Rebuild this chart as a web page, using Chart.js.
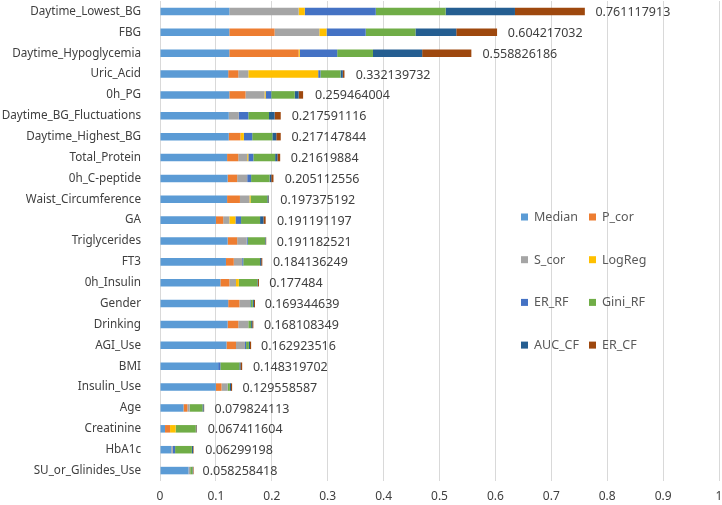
<!DOCTYPE html>
<html lang="en">
<head>
    <meta charset="UTF-8">
    <title>Feature importance</title>
    <script src="https://cdn.jsdelivr.net/npm/chart.js"></script>
    <style>
        html, body { margin: 0; padding: 0; background: #fff; }
    </style>
</head>
<body>
    <canvas id="myChart" width="722" height="505"></canvas>
    <script>
        var features = ['Daytime_Lowest_BG', 'FBG', 'Daytime_Hypoglycemia', 'Uric_Acid', '0h_PG',
            'Daytime_BG_Fluctuations', 'Daytime_Highest_BG', 'Total_Protein', '0h_C-peptide',
            'Waist_Circumference', 'GA', 'Triglycerides', 'FT3', '0h_Insulin', 'Gender', 'Drinking',
            'AGI_Use', 'BMI', 'Insulin_Use', 'Age', 'Creatinine', 'HbA1c', 'SU_or_Glinides_Use'];

        var median  = [0.124, 0.124, 0.124, 0.122, 0.124, 0.123, 0.123, 0.120, 0.121, 0.120, 0.100, 0.121, 0.118, 0.108, 0.122, 0.121, 0.119, 0.104, 0.100, 0.042, 0.009, 0.020, 0.051];
        var pCor    = [0, 0.081, 0.124, 0.018, 0.029, 0, 0.021, 0.020, 0.017, 0.023, 0.013, 0.017, 0.014, 0.016, 0.020, 0.019, 0.017, 0, 0.010, 0.007, 0.009, 0, 0];
        var sCor    = [0.124, 0.080, 0, 0.018, 0.034, 0.018, 0, 0.016, 0.018, 0.017, 0.011, 0.017, 0.015, 0.012, 0.019, 0.018, 0.016, 0, 0.011, 0.004, 0, 0.003, 0.003];
        var logReg  = [0.011, 0.013, 0.002, 0.125, 0.002, 0, 0.006, 0.002, 0, 0.002, 0.011, 0, 0, 0.005, 0, 0, 0, 0, 0, 0, 0.010, 0, 0];
        var erRF    = [0.127, 0.070, 0.067, 0.004, 0.010, 0.017, 0.015, 0.009, 0.007, 0, 0.010, 0.002, 0.002, 0, 0.001, 0, 0.002, 0.004, 0, 0, 0, 0.004, 0];
        var giniRF  = [0.125, 0.089, 0.064, 0.036, 0.042, 0.037, 0.036, 0.039, 0.033, 0.030, 0.034, 0.031, 0.030, 0.033, 0.004, 0.005, 0.005, 0.034, 0.004, 0.023, 0.036, 0.030, 0.004];
        var aucCF   = [0.124, 0.073, 0.088, 0.004, 0.007, 0.010, 0.007, 0.004, 0.003, 0.002, 0.006, 0.001, 0.002, 0.001, 0.002, 0.002, 0.002, 0.002, 0.002, 0.002, 0.001, 0.002, 0.001];
        var erCF    = [0.125, 0.073, 0.088, 0.003, 0.008, 0.011, 0.008, 0.005, 0.004, 0.001, 0.004, 0.001, 0.002, 0.002, 0.002, 0.002, 0.002, 0.003, 0.002, 0.001, 0.001, 0.001, 0.001];

        // totals printed next to the bars
        var totals = ['0.761117913', '0.604217032', '0.558826186', '0.332139732', '0.259464004',
            '0.217591116', '0.217147844', '0.21619884', '0.205112556', '0.197375192', '0.191191197',
            '0.191182521', '0.184136249', '0.177484', '0.169344639', '0.168108349', '0.162923516',
            '0.148319702', '0.129558587', '0.079824113', '0.067411604', '0.06299198', '0.058258418'];

        var xTicks = [0, 0.1, 0.2, 0.3, 0.4, 0.5, 0.6, 0.7, 0.8, 0.9, 1];

        var seriesNames = ['Median', 'P_cor', 'S_cor', 'LogReg', 'ER_RF', 'Gini_RF', 'AUC_CF', 'ER_CF'];
        var seriesData = [median, pCor, sCor, logReg, erRF, giniRF, aucCF, erCF];
        var seriesColors = ['#5B9BD5', '#ED7D31', '#A5A5A5', '#FFC000', '#4472C4', '#70AD47', '#255E91', '#9E480E'];

        var FONT = '"Noto Sans", "Open Sans", sans-serif';
        var TEXT = '#404040';

        // value labels after each bar
        var totalLabels = {
            id: 'totalLabels',
            afterDatasetsDraw: function (chart) {
                var ctx = chart.ctx;
                var x = chart.scales.x, y = chart.scales.y;
                ctx.save();
                ctx.font = '12.5px ' + FONT;
                ctx.fillStyle = TEXT;
                ctx.textBaseline = 'middle';
                ctx.textAlign = 'left';
                totals.forEach(function (t, i) {
                    ctx.fillText(t, x.getPixelForValue(parseFloat(t)) + 10, y.getPixelForValue(i) + 1);
                });
                ctx.restore();
            }
        };

        // legend sits inside the plot, two columns
        var boxLegend = {
            id: 'boxLegend',
            afterDatasetsDraw: function (chart) {
                var ctx = chart.ctx;
                var area = chart.chartArea;
                var left = area.left + 361, colGap = 68;
                var top = 217, rowGap = 42.7;
                ctx.save();
                ctx.font = '12.5px ' + FONT;
                ctx.textBaseline = 'middle';
                chart.data.datasets.forEach(function (ds, i) {
                    var cx = left + (i % 2) * colGap;
                    var cy = top + Math.floor(i / 2) * rowGap;
                    ctx.fillStyle = ds.backgroundColor;
                    ctx.fillRect(cx, cy - 3.5, 7, 7);
                    ctx.fillStyle = '#595959';
                    ctx.fillText(ds.label, cx + 13, cy + 0.5);
                });
                ctx.restore();
            }
        };

        var ctx = document.getElementById('myChart').getContext('2d');
        var myChart = new Chart(ctx, {
            type: 'bar',
            data: {
                labels: features,
                datasets: seriesNames.map(function (name, i) {
                    return {
                        label: name,
                        data: seriesData[i],
                        backgroundColor: seriesColors[i],
                        borderWidth: 0,
                        barPercentage: 0.6,
                        categoryPercentage: 0.6
                    };
                })
            },
            options: {
                indexAxis: 'y',
                responsive: false,
                animation: false,
                layout: { padding: { top: 1, right: 3, bottom: 0, left: 0 } },
                plugins: {
                    legend: { display: false },
                    tooltip: { enabled: false }
                },
                scales: {
                    x: {
                        stacked: true,
                        min: 0,
                        max: 1,
                        afterBuildTicks: function (scale) {
                            scale.ticks = xTicks.map(function (v) { return { value: v }; });
                        },
                        afterFit: function (scale) {
                            scale.paddingLeft = 0;
                            scale.paddingRight = 0;
                            scale.height = 24;
                        },
                        ticks: {
                            color: TEXT,
                            font: { family: FONT, size: 12 },
                            padding: 8,
                            maxRotation: 0,
                            callback: function (v) { return String(Math.round(v * 10) / 10); }
                        },
                        grid: { color: '#D9D9D9', lineWidth: 1, drawTicks: false },
                        border: { display: false }
                    },
                    y: {
                        stacked: true,
                        afterFit: function (scale) {
                            scale.width = 160;
                            scale.paddingTop = 0;
                            scale.paddingBottom = 0;
                        },
                        ticks: {
                            color: TEXT,
                            font: { family: FONT, size: 11.7 },
                            padding: 11,
                            autoSkip: false
                        },
                        grid: { display: false },
                        border: { display: false }
                    }
                }
            },
            plugins: [totalLabels, boxLegend]
        });
    </script>
</body>
</html>
